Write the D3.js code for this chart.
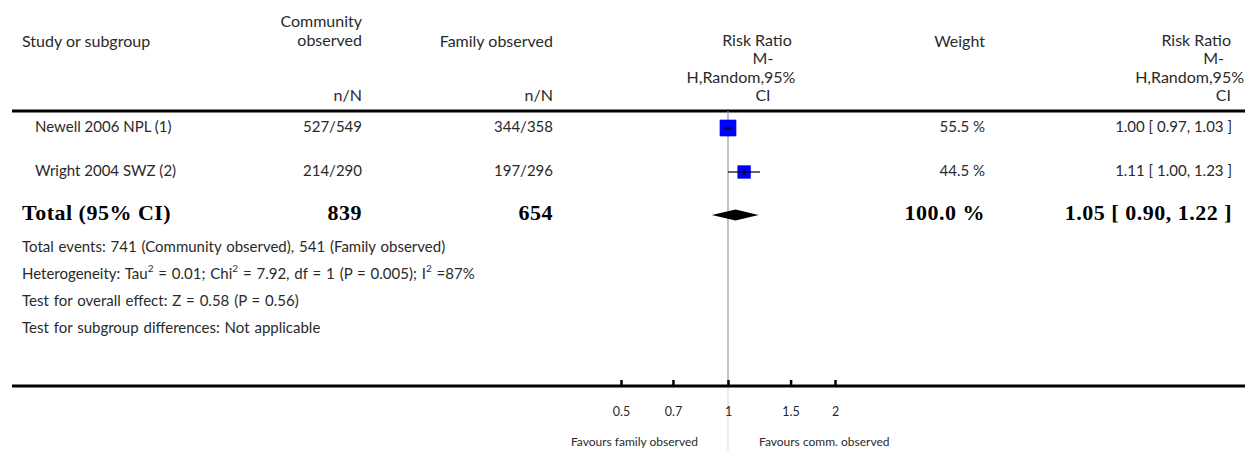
<!DOCTYPE html>
<html>
<head>
<meta charset="utf-8">
<script src="https://cdn.jsdelivr.net/npm/d3@7"></script>
<style>
  body { margin: 0; background: #fff; }
  svg text { font-family: Lato, "Open Sans", sans-serif; fill: #2a2a2a; }
  svg text.bold { font-family: "Liberation Serif", serif; font-weight: bold; fill: #000; letter-spacing: 0.5px; }
</style>
</head>
<body>
<svg id="chart" width="1259" height="450"></svg>
<script>
// study rows
const studies = ["Newell 2006 NPL (1)", "Wright 2004 SWZ (2)"];
const commEvents = [527, 214];
const commTotal = [549, 290];
const famEvents = [344, 197];
const famTotal = [358, 296];
const weights = [55.5, 44.5];
const riskRatio = [1.00, 1.11];
const ciLow = [0.97, 1.00];
const ciHigh = [1.03, 1.23];

// pooled result
const totalComm = 839;
const totalFam = 654;
const totalWeight = 100.0;
const totalRR = 1.05;
const totalLow = 0.90;
const totalHigh = 1.22;

const tickValues = [0.5, 0.7, 1, 1.5, 2];
const favourLabels = ["Favours family observed", "Favours comm. observed"];

const svg = d3.select("#chart");
const x = d3.scaleLog().domain([0.5, 2]).range([621, 835]);
const fmt2 = d3.format(".2f");

const rowY = [128, 172];
const totalY = 215;
const axisY = 386;
const headSize = 16, bodySize = 15;

// column headers
function headerLines(lines, xPos, anchor, y0) {
    lines.forEach((t, i) => {
        svg.append("text")
            .attr("x", xPos).attr("y", y0 + i * 18.5)
            .attr("text-anchor", anchor)
            .attr("dominant-baseline", "middle")
            .attr("font-size", headSize)
            .text(t);
    });
}
headerLines(["Study or subgroup"], 22, "start", 43);
headerLines(["Community", "observed"], 362, "end", 23);
headerLines(["n/N"], 362, "end", 97);
headerLines(["Family observed"], 553, "end", 43);
headerLines(["n/N"], 553, "end", 97);
headerLines(["Weight"], 985, "end", 43);

// risk ratio headers (wrapped text)
[["Risk Ratio", 757], ["M-", 763], ["H,Random,95%", 741], ["CI", 763]].forEach(([t, cx], i) => {
    svg.append("text").attr("x", cx).attr("y", 42 + i * 18.3)
        .attr("text-anchor", "middle").attr("dominant-baseline", "middle")
        .attr("font-size", headSize).text(t);
});
[["Risk Ratio", 1231], ["M-", 1224], ["H,Random,95%", 1244], ["CI", 1231]].forEach(([t, rx], i) => {
    svg.append("text").attr("x", rx).attr("y", 42 + i * 18.3)
        .attr("text-anchor", "end").attr("dominant-baseline", "middle")
        .attr("font-size", headSize).text(t);
});

// rules
svg.append("line").attr("x1", 12).attr("x2", 1245).attr("y1", 111).attr("y2", 111)
    .attr("stroke", "#000").attr("stroke-width", 3);

// reference line at RR = 1
svg.append("line").attr("x1", x(1)).attr("x2", x(1)).attr("y1", 111).attr("y2", axisY)
    .attr("stroke", "#999").attr("stroke-width", 1.2);
svg.append("line").attr("x1", x(1)).attr("x2", x(1)).attr("y1", axisY).attr("y2", 450)
    .attr("stroke", "#ddd").attr("stroke-width", 1.2);

// study rows
studies.forEach((s, i) => {
    const y = rowY[i];
    const row = svg.append("g");
    const txt = (xPos, anchor, t) => row.append("text").attr("x", xPos).attr("y", y)
        .attr("text-anchor", anchor).attr("dominant-baseline", "middle")
        .attr("font-size", bodySize).text(t);
    txt(35, "start", s);
    txt(362, "end", `${commEvents[i]}/${commTotal[i]}`);
    txt(553, "end", `${famEvents[i]}/${famTotal[i]}`);
    txt(985, "end", `${weights[i].toFixed(1)} %`);
    txt(1232, "end", `${fmt2(riskRatio[i])} [ ${fmt2(ciLow[i])}, ${fmt2(ciHigh[i])} ]`);

    const side = weights[i] * 0.3;
    row.append("rect")
        .attr("x", x(riskRatio[i]) - side / 2).attr("y", y - side / 2)
        .attr("width", side).attr("height", side)
        .attr("fill", "#0000ff");
    row.append("line")
        .attr("x1", x(ciLow[i])).attr("x2", x(ciHigh[i]))
        .attr("y1", y).attr("y2", y)
        .attr("stroke", "#000").attr("stroke-width", 1.2);
    row.append("line")
        .attr("x1", x(riskRatio[i])).attr("x2", x(riskRatio[i]))
        .attr("y1", y - 3).attr("y2", y + 3)
        .attr("stroke", "#000").attr("stroke-width", 1);
});

// total row
const tot = (xPos, t) => svg.append("text").attr("class", "bold")
    .attr("x", xPos).attr("y", totalY)
    .attr("text-anchor", xPos < 100 ? "start" : "end")
    .attr("dominant-baseline", "middle").attr("font-size", 22).text(t);
tot(22, "Total (95% CI)");
tot(362, totalComm);
tot(553, totalFam);
tot(985, `${totalWeight.toFixed(1)} %`);
tot(1232, `${fmt2(totalRR)} [ ${fmt2(totalLow)}, ${fmt2(totalHigh)} ]`);

svg.append("path")
    .attr("d", d3.line()([
        [x(totalLow), totalY], [x(totalRR), totalY - 5.5],
        [x(totalHigh), totalY], [x(totalRR), totalY + 5.5]
    ]) + "Z")
    .attr("fill", "#000");

// footnotes
const foot = svg.append("g");
function footLine(y, parts) {
    const t = foot.append("text").attr("x", 22).attr("y", y)
        .attr("dominant-baseline", "middle").attr("font-size", bodySize)
        .attr("word-spacing", 1);
    parts.forEach(p => {
        if (typeof p === "string") {
            t.append("tspan").text(p);
        } else {
            t.append("tspan").attr("font-size", 10).attr("dy", -6).text(p.sup);
            t.append("tspan").attr("dy", 6).text(p.after);
        }
    });
}
footLine(248, ["Total events: 741 (Community observed), 541 (Family observed)"]);
footLine(275, ["Heterogeneity: Tau", {sup: "2", after: " = 0.01; Chi"}, {sup: "2", after: " = 7.92, df = 1 (P = 0.005); I"}, {sup: "2", after: " =87%"}]);
footLine(302, ["Test for overall effect: Z = 0.58 (P = 0.56)"]);
footLine(329, ["Test for subgroup differences: Not applicable"]);

// bottom axis
svg.append("line").attr("x1", 12).attr("x2", 1245).attr("y1", axisY).attr("y2", axisY)
    .attr("stroke", "#000").attr("stroke-width", 3);
const axis = d3.axisBottom(x)
    .tickValues(tickValues)
    .tickFormat(d => String(d))
    .tickSizeInner(-6).tickSizeOuter(0)
    .tickPadding(21);
const ag = svg.append("g").attr("transform", `translate(0,${axisY})`).call(axis);
ag.select(".domain").remove();
ag.selectAll(".tick line").attr("stroke", "#000").attr("stroke-width", 2.5);
ag.selectAll(".tick text").attr("font-size", 12.5).attr("font-family", "Lato, sans-serif").attr("fill", "#2a2a2a");

svg.append("text").attr("x", x(1) - 30).attr("y", 443).attr("text-anchor", "end")
    .attr("dominant-baseline", "middle").attr("font-size", 12).text(favourLabels[0]);
svg.append("text").attr("x", x(1) + 31).attr("y", 443).attr("text-anchor", "start")
    .attr("dominant-baseline", "middle").attr("font-size", 12).text(favourLabels[1]);
</script>
</body>
</html>
